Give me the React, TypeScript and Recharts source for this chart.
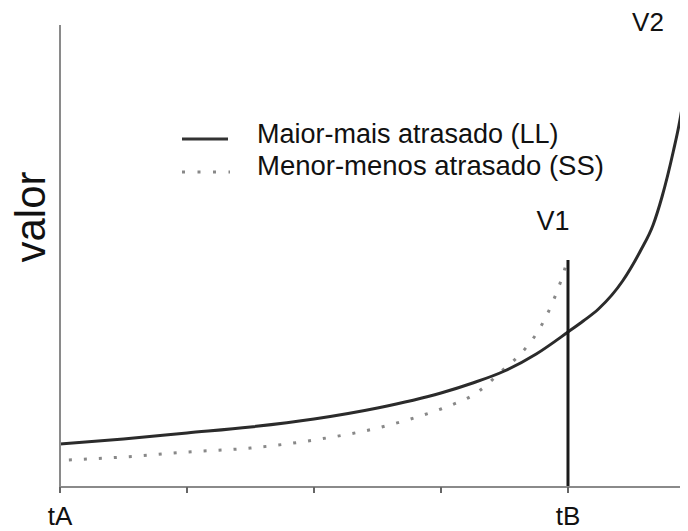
import React from "react";
import { LineChart, Line, XAxis, YAxis, ReferenceLine, ReferenceDot } from "recharts";

const tickPositions = [0, 1, 2, 3, 4];
const tickLabels = ["tA", "", "", "", "tB"];

const llTime = [0, 0.5, 1, 1.5, 2, 2.5, 3, 3.25, 3.5, 3.75, 4, 4.12, 4.24, 4.43, 4.57, 4.67, 4.74, 4.83, 4.88, 4.92, 4.945];
const llValue = [43, 48, 54, 60, 68, 79, 94, 104, 116, 133, 155, 166, 178, 206, 236, 262, 290, 336, 366, 398, 429];

const ssTime = [0.07, 0.5, 1, 1.5, 2, 2.5, 2.76, 3, 3.12, 3.24, 3.35, 3.46, 3.57, 3.68, 3.76, 3.83, 3.88, 3.93, 3.97, 4];
const ssValue = [27, 30, 35, 39, 47, 59, 68, 78, 84, 91, 101, 114, 126, 141, 155, 171, 185, 201, 216, 230];

const tB = 4;
const v1Height = 227;

const llName = "Maior-mais atrasado (LL)";
const ssName = "Menor-menos atrasado (SS)";

const llData = llTime.map((t, i) => ({ t, v: llValue[i] }));
const ssData = ssTime.map((t, i) => ({ t, v: ssValue[i] }));

const FONT = "'Liberation Sans', Arial, sans-serif";

const LegendBox = () => (
  <div style={{ position: "absolute", left: 174, top: 110, fontFamily: FONT, fontSize: 27, color: "#111" }}>
    <div style={{ display: "flex", height: 32, alignItems: "center", whiteSpace: "nowrap" }}>
      <svg width={75} height={32} style={{ display: "block" }}>
        <line x1={0} y1={21} x2={46} y2={21} stroke="#333" strokeWidth={3} />
      </svg>
      <span style={{ lineHeight: "32px" }}>{llName}</span>
    </div>
    <div style={{ display: "flex", height: 32, alignItems: "center", whiteSpace: "nowrap" }}>
      <svg width={75} height={32} style={{ display: "block" }}>
        <line x1={0} y1={22} x2={48} y2={22} stroke="#888" strokeWidth={3} strokeDasharray="3 12.5" />
      </svg>
      <span style={{ lineHeight: "32px", fontSize: 27.5 }}>{ssName}</span>
    </div>
  </div>
);

export default function App() {
  return (
    <div style={{ position: "relative", width: 680, height: 523 }}>
      <LineChart width={680} height={523} margin={{ top: 17, right: 0, left: 0, bottom: 0 }}>
        <XAxis
          type="number"
          dataKey="t"
          domain={[0, 4.945]}
          ticks={tickPositions}
          tickFormatter={(v: number) => tickLabels[tickPositions.indexOf(v)] ?? ""}
          height={44}
          tickSize={6}
          tickMargin={14}
          interval={0}
          allowDataOverflow
          axisLine={{ stroke: "#8a8a8a", strokeWidth: 2 }}
          tickLine={{ stroke: "#666", strokeWidth: 2 }}
          tick={{ fill: "#111", fontSize: 26, fontFamily: FONT }}
        />
        <YAxis
          type="number"
          domain={[0, 462]}
          width={52}
          tick={false}
          tickLine={false}
          allowDataOverflow
          axisLine={{ stroke: "#8a8a8a", strokeWidth: 2 }}
          label={{
            content: () => (
              <text
                x={22}
                y={209}
                transform="rotate(-90 22 209)"
                textAnchor="middle"
                dominantBaseline="central"
                fontSize={42}
                fontFamily={FONT}
                fill="#111"
              >
                valor
              </text>
            ),
          }}
        />
        <Line
          data={ssData}
          dataKey="v"
          type="monotone"
          stroke="#888"
          strokeWidth={3}
          strokeDasharray="3 12"
          dot={false}
          isAnimationActive={false}
          name={ssName}
        />
        <Line
          data={llData}
          dataKey="v"
          type="monotone"
          stroke="#2b2b2b"
          strokeWidth={3}
          dot={false}
          isAnimationActive={false}
          name={llName}
        />
        <ReferenceLine
          segment={[{ x: tB, y: 0 }, { x: tB, y: v1Height }]}
          stroke="#1a1a1a"
          strokeWidth={3}
          ifOverflow="visible"
          label={{
            content: (p: any) => {
              const vb = p.viewBox || {};
              return (
                <text x={vb.x - 15} y={vb.y - 30} textAnchor="middle" fontSize={27} fontFamily={FONT} fill="#111">
                  V1
                </text>
              );
            },
          }}
        />
        <ReferenceDot
          x={llTime[llTime.length - 1]}
          y={llValue[llValue.length - 1]}
          r={0}
          ifOverflow="visible"
          label={{
            content: (p: any) => {
              const vb = p.viewBox || {};
              const cx = vb.x + (vb.width || 0) / 2;
              const cy = vb.y + (vb.height || 0) / 2;
              return (
                <text x={cx - 40} y={cy - 27} textAnchor="middle" fontSize={26} fontFamily={FONT} fill="#111">
                  V2
                </text>
              );
            },
          }}
        />
      </LineChart>
      <LegendBox />
    </div>
  );
}
